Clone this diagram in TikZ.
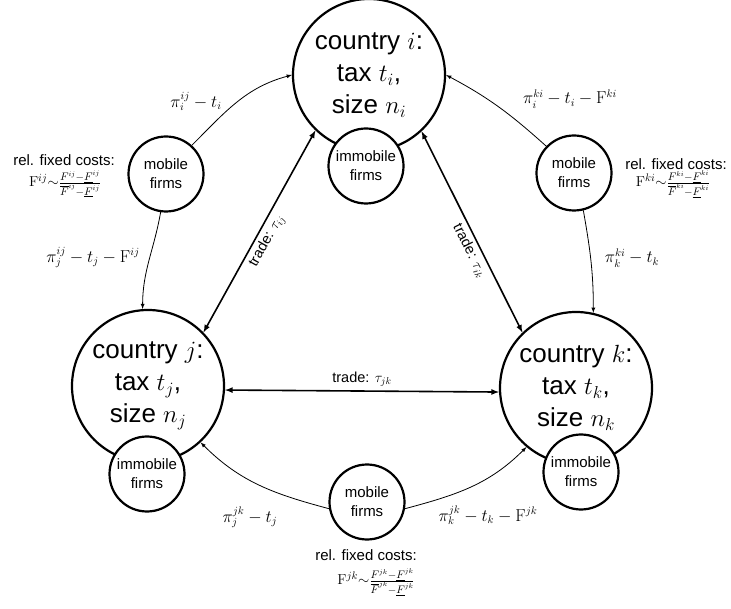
\documentclass[tikz,border=0pt]{standalone}
\usepackage[no-math]{fontspec}
\setmainfont{Liberation Sans}
\usetikzlibrary{arrows}

\tikzset{
  country/.style={circle, draw, line width=2.2pt, minimum size=152pt, inner sep=0pt,
    align=center, font=\fontsize{26}{32}\selectfont},
  firms/.style={circle, draw, line width=2.2pt, fill=white, minimum size=75pt, inner sep=0pt,
    align=center, font=\fontsize{15}{19}\selectfont},
  trade/.style={line width=1.6pt, latex-latex},
  flow/.style={line width=0.8pt, -latex},
  lbl/.style={font=\fontsize{16}{18}\selectfont},
  tlbl/.style={font=\fontsize{14.5}{16}\selectfont},
  cost/.style={font=\fontsize{15}{18}\selectfont},
}

\begin{document}
\begin{tikzpicture}[x=1pt, y=-1pt]
    \useasboundingbox (0,0) rectangle (731,609);
    % countries
    \node[country] (ci) at (369,75) {country $i$:\\tax $t_i$,\\size $n_i$};
    \node[country] (cj) at (148,386) {country $j$:\\tax $t_j$,\\size $n_j$};
    \node[country] (ck) at (576,388) {country $k$:\\tax $t_k$,\\size $n_k$};
    % immobile firms
    \node[firms] (ii) at (366,166) {immobile\\firms};
    \node[firms] (ij) at (147,474) {immobile\\firms};
    \node[firms] (ik) at (581,472) {immobile\\firms};
    % mobile firms
    \node[firms] (mij) at (166,174) {mobile\\firms};
    \node[firms] (mki) at (574,173) {mobile\\firms};
    \node[firms] (mjk) at (367,502) {mobile\\firms};

    % trade
    \draw[trade] (ci.226) -- node[tlbl, sloped, below, pos=0.52] {trade: $\tau_{ij}$} (cj.44);
    \draw[trade] (ci.313) -- node[tlbl, sloped, below, pos=0.57] {trade: $\tau_{ik}$} (ck.134);
    \draw[trade] (cj.-3) -- node[tlbl, above] {trade: $\tau_{jk}$} (ck.183);

    % profits of mobile firms
    \draw[flow] (mij.48) to[out=45, in=195] (ci.west);
    \draw[flow] (mij.262) to[out=260, in=90] (cj.94);
    \draw[flow] (mki.136) to[out=138, in=-28] (ci.east);
    \draw[flow] (mki.284) to[out=-80, in=90] (ck.77);
    \draw[flow] (mjk.190) to[out=165, in=-45] (cj.-47);
    \draw[flow] (mjk.-10) to[out=15, in=-135] (ck.230);

    \node[lbl] (pij) at (196,101) {$\pi_i^{ij}-t_i$};
    \node[lbl] (pjij) at (93,257) {$\pi_j^{ij}-t_j-\mathrm{F}^{ij}$};
    \node[lbl] (piki) at (570,99) {$\pi_i^{ki}-t_i-\mathrm{F}^{ki}$};
    \node[lbl] (pkki) at (632,258) {$\pi_k^{ki}-t_k$};
    \node[lbl] (pjjk) at (250,517) {$\pi_j^{jk}-t_j$};
    \node[lbl] (pkjk) at (488,515) {$\pi_k^{jk}-t_k-\mathrm{F}^{jk}$};

    % relative fixed costs
    \node[cost] (fcij) at (64,160) {rel. fixed costs:};
    \node[cost] (feij) at (65,184) {$\mathrm{F}^{ij}{\sim}\frac{F^{ij}-\underline{F}^{ij}}{\overline{F}^{ij}-\underline{F}^{ij}}$};
    \node[cost] (fcki) at (676,164) {rel. fixed costs:};
    \node[cost] (feki) at (673,184) {$\mathrm{F}^{ki}{\sim}\frac{F^{ki}-\underline{F}^{ki}}{\overline{F}^{ki}-\underline{F}^{ki}}$};
    \node[cost] (fcjk) at (366,555) {rel. fixed costs:};
    \node[cost] (fejk) at (376,582) {$\mathrm{F}^{jk}{\sim}\frac{F^{jk}-\underline{F}^{jk}}{\overline{F}^{jk}-\underline{F}^{jk}}$};
\end{tikzpicture}
\end{document}
